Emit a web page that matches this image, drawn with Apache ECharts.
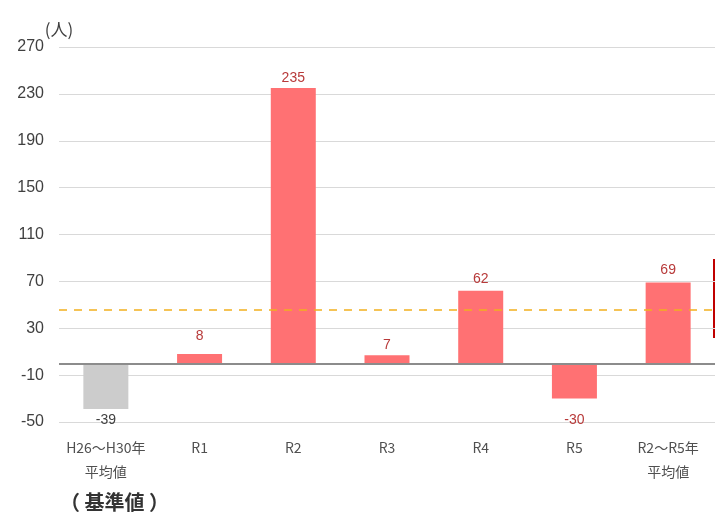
<!DOCTYPE html>
<html>
<head>
<meta charset="utf-8">
<script src="https://cdn.jsdelivr.net/npm/echarts@6/dist/echarts.min.js"></script>
<style>
html,body{margin:0;padding:0;background:#fff;}
#c{width:716px;height:518px;}
</style>
</head>
<body>
<div id="c"></div>
<script>
const categories = ['H26～H30年\n平均値', 'R1', 'R2', 'R3', 'R4', 'R5', 'R2～R5年\n平均値'];
const values = [-39, 8, 235, 7, 62, -30, 69];
const referenceLine = 46;
const yTicks = [-50, -10, 30, 70, 110, 150, 190, 230, 270];

const font = '"Noto Sans CJK JP", "Noto Sans", sans-serif';
const pink = '#ff7173';
const grey = '#cccccc';
const labelRed = '#b83a3a';

const dataItems = values.map((v, i) => {
  const isBase = i === 0;
  let dist = 5;
  if (i === 1) dist = 11;
  if (i === 3) dist = 3;
  if (i === 2) dist = 3;
  if (i === 5) dist = 15;
  if (i === 0) dist = 4;
  return {
    value: v,
    itemStyle: { color: isBase ? grey : pink },
    label: {
      position: v < 0 ? 'bottom' : 'top',
      distance: dist,
      color: isBase ? '#404040' : labelRed
    }
  };
});

const chart = echarts.init(document.getElementById('c'), null, { renderer: 'canvas' });
chart.setOption({
  animation: false,
  backgroundColor: '#ffffff',
  grid: { left: 59, right: 1, top: 47, bottom: 96 },
  xAxis: {
    type: 'category',
    data: categories,
    axisLine: { show: false, onZero: false },
    axisTick: { show: false },
    axisLabel: {
      color: '#505050',
      fontFamily: font,
      fontSize: 14,
      lineHeight: 24,
      margin: 14,
      interval: 0
    }
  },
  yAxis: {
    type: 'value',
    min: yTicks[0],
    max: yTicks[yTicks.length - 1],
    interval: yTicks[1] - yTicks[0],
    name: '(人)',
    nameLocation: 'end',
    nameGap: 9,
    nameTextStyle: { color: '#404040', fontFamily: font, fontSize: 17, align: 'center' },
    axisLine: { show: false },
    axisTick: { show: false },
    axisLabel: { color: '#404040', fontFamily: 'Arial, "Liberation Sans", sans-serif', fontSize: 16, margin: 15 },
    splitLine: { lineStyle: { color: '#d9d9d9', width: 1 } }
  },
  series: [{
    type: 'bar',
    data: dataItems,
    barWidth: 45,
    label: {
      show: true,
      fontFamily: 'Arial, "Liberation Sans", sans-serif',
      fontSize: 14
    },
    markLine: {
      silent: true,
      symbol: 'none',
      label: { show: false },
      data: [
        { yAxis: 0, lineStyle: { color: '#8c8c8c', width: 2, type: 'solid' } },
        { yAxis: referenceLine, lineStyle: { color: '#f2b01e', width: 1.5, type: [8, 7] } }
      ]
    }
  }],
  graphic: [
    {
      type: 'text',
      left: 60,
      top: 492,
      style: { text: '（ 基準値 ）', fontFamily: font, fontSize: 20, fontWeight: 'bold', fill: '#333333' }
    },
    {
      type: 'line',
      shape: { x1: 714, y1: 259, x2: 714, y2: 338 },
      style: { stroke: '#c00000', lineWidth: 2 }
    }
  ]
});
</script>
</body>
</html>
